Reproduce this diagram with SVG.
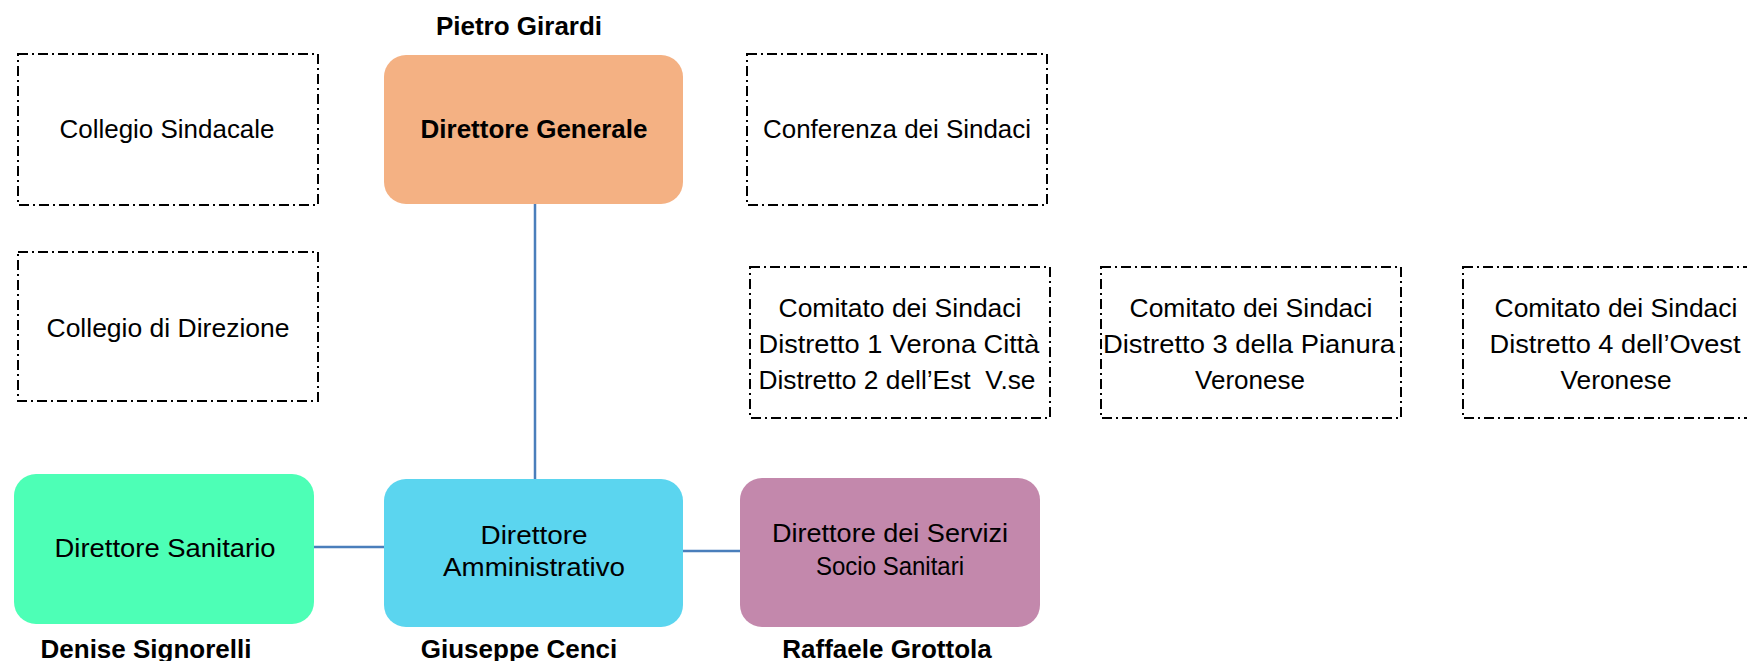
<svg xmlns="http://www.w3.org/2000/svg" width="1747" height="661" viewBox="0 0 1747 661">
<style>
.dd{fill:#fff;stroke:#000;stroke-width:2;stroke-dasharray:10 4 2 4}
.t{font-family:"Liberation Sans",Arial,sans-serif;font-size:26px;fill:#000;text-anchor:middle}
.b{font-weight:bold}
.n{font-family:"Liberation Sans",Arial,sans-serif;font-size:26px;font-weight:bold;fill:#000;text-anchor:middle}
.c{stroke:#4A7EBB;stroke-width:2.5;fill:none}
</style>
<rect width="1747" height="661" fill="#fff"/>
<g id="connectors">
<line class="c" x1="535" y1="204" x2="535" y2="479"/>
<line class="c" x1="314" y1="547" x2="384" y2="547"/>
<line class="c" x1="683" y1="551" x2="740" y2="551"/>
</g>
<g id="collegio-sindacale">
<rect class="dd" x="18" y="54" width="300" height="151"/>
<text class="t" x="167" y="138" textLength="215" lengthAdjust="spacingAndGlyphs">Collegio Sindacale</text>
</g>
<g id="direttore-generale">
<text class="n" x="519" y="35">Pietro Girardi</text>
<rect x="384" y="55" width="299" height="149" rx="22" fill="#F4B183"/>
<text class="t b" x="534" y="138" textLength="227" lengthAdjust="spacingAndGlyphs">Direttore Generale</text>
</g>
<g id="conferenza-sindaci">
<rect class="dd" x="747" y="54" width="300" height="151"/>
<text class="t" x="897" y="138" textLength="268" lengthAdjust="spacingAndGlyphs">Conferenza dei Sindaci</text>
</g>
<g id="collegio-direzione">
<rect class="dd" x="18" y="252" width="300" height="149"/>
<text class="t" x="168" y="337" textLength="243" lengthAdjust="spacingAndGlyphs">Collegio di Direzione</text>
</g>
<g id="comitato-1-2">
<rect class="dd" x="750" y="267" width="300" height="151"/>
<text class="t" x="900" y="317" textLength="243" lengthAdjust="spacingAndGlyphs">Comitato dei Sindaci</text>
<text class="t" x="899" y="353" textLength="281" lengthAdjust="spacingAndGlyphs">Distretto 1 Verona Città</text>
<text class="t" x="897" y="389" textLength="277" lengthAdjust="spacingAndGlyphs" xml:space="preserve">Distretto 2 dell’Est  V.se</text>
</g>
<g id="comitato-3">
<rect class="dd" x="1101" y="267" width="300" height="151"/>
<text class="t" x="1251" y="317" textLength="243" lengthAdjust="spacingAndGlyphs">Comitato dei Sindaci</text>
<text class="t" x="1249" y="353" textLength="292" lengthAdjust="spacingAndGlyphs">Distretto 3 della Pianura</text>
<text class="t" x="1250" y="389" textLength="110" lengthAdjust="spacingAndGlyphs">Veronese</text>
</g>
<g id="comitato-4">
<rect class="dd" x="1463" y="267" width="300" height="151"/>
<text class="t" x="1616" y="317" textLength="243" lengthAdjust="spacingAndGlyphs">Comitato dei Sindaci</text>
<text class="t" x="1615" y="353" textLength="251" lengthAdjust="spacingAndGlyphs">Distretto 4 dell’Ovest</text>
<text class="t" x="1616" y="389" textLength="111" lengthAdjust="spacingAndGlyphs">Veronese</text>
</g>
<g id="direttore-sanitario">
<rect x="14" y="474" width="300" height="150" rx="22" fill="#4DFFB6"/>
<text class="t" x="165" y="557" textLength="221" lengthAdjust="spacingAndGlyphs">Direttore Sanitario</text>
<text class="n" x="146" y="658">Denise Signorelli</text>
</g>
<g id="direttore-amministrativo">
<rect x="384" y="479" width="299" height="148" rx="22" fill="#5BD5EF"/>
<text class="t" x="534" y="544" textLength="107" lengthAdjust="spacingAndGlyphs">Direttore</text>
<text class="t" x="534" y="576" textLength="182" lengthAdjust="spacingAndGlyphs">Amministrativo</text>
<text class="n" x="519" y="658">Giuseppe Cenci</text>
</g>
<g id="direttore-servizi">
<rect x="740" y="478" width="300" height="149" rx="22" fill="#C388AC"/>
<text class="t" x="890" y="542" textLength="236" lengthAdjust="spacingAndGlyphs">Direttore dei Servizi</text>
<text class="t" x="890" y="575" textLength="148" lengthAdjust="spacingAndGlyphs">Socio Sanitari</text>
<text class="n" x="887" y="658">Raffaele Grottola</text>
</g>
</svg>
